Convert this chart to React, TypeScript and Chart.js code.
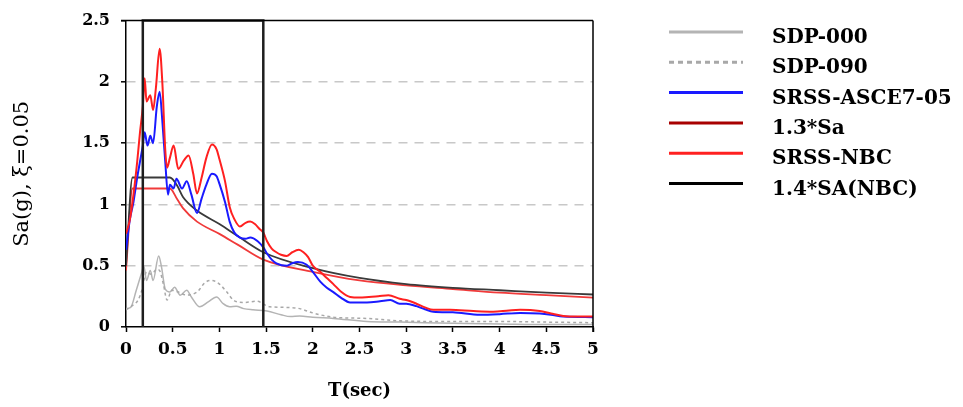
import { useEffect, useRef } from "react";
import { Chart, registerables } from "chart.js";

Chart.register(...registerables);

// SDP-000 (gray solid)
const sdp000T = [0, 0.05, 0.11, 0.17, 0.19, 0.22, 0.26, 0.29, 0.35, 0.38, 0.42, 0.47, 0.52, 0.58, 0.65, 0.7, 0.79, 0.88, 0.97, 1.04, 1.11, 1.18, 1.26, 1.36, 1.51, 1.66, 1.76, 1.86, 2.0, 2.22, 2.58, 2.93, 3.5, 4.0, 4.5, 5.0];
const sdp000Sa = [0.15, 0.16, 0.3, 0.45, 0.5, 0.38, 0.46, 0.38, 0.58, 0.49, 0.31, 0.285, 0.325, 0.26, 0.3, 0.245, 0.165, 0.205, 0.245, 0.19, 0.165, 0.17, 0.15, 0.14, 0.13, 0.1, 0.085, 0.09, 0.08, 0.07, 0.045, 0.04, 0.03, 0.025, 0.02, 0.02];

// SDP-090 (gray dashed)
const sdp090T = [0, 0.06, 0.13, 0.17, 0.22, 0.27, 0.33, 0.36, 0.4, 0.44, 0.49, 0.56, 0.65, 0.76, 0.85, 0.92, 1.0, 1.08, 1.15, 1.26, 1.4, 1.54, 1.72, 1.86, 2.0, 2.22, 2.58, 2.93, 3.5, 4.0, 4.5, 5.0];
const sdp090Sa = [0.14, 0.17, 0.22, 0.3, 0.45, 0.43, 0.47, 0.46, 0.35, 0.22, 0.3, 0.285, 0.26, 0.285, 0.365, 0.38, 0.35, 0.285, 0.22, 0.2, 0.21, 0.165, 0.16, 0.15, 0.115, 0.08, 0.07, 0.05, 0.045, 0.045, 0.04, 0.035];

// SRSS-ASCE7-05 (blue)
const asceT = [0, 0.04, 0.08, 0.12, 0.15, 0.18, 0.2, 0.23, 0.26, 0.29, 0.33, 0.36, 0.39, 0.42, 0.45, 0.47, 0.51, 0.54, 0.6, 0.65, 0.7, 0.76, 0.81, 0.86, 0.92, 0.97, 1.0, 1.06, 1.11, 1.16, 1.22, 1.28, 1.33, 1.41, 1.47, 1.51, 1.56, 1.61, 1.72, 1.78, 1.84, 1.93, 2.0, 2.08, 2.15, 2.22, 2.3, 2.4, 2.58, 2.72, 2.83, 2.93, 3.0, 3.11, 3.2, 3.29, 3.5, 3.79, 4.0, 4.22, 4.43, 4.55, 4.68, 5.0];
const asceSa = [0.63, 0.87, 1.02, 1.22, 1.35, 1.48, 1.59, 1.48, 1.56, 1.5, 1.8, 1.92, 1.67, 1.35, 1.08, 1.16, 1.13, 1.21, 1.13, 1.19, 1.08, 0.93, 1.05, 1.16, 1.25, 1.23, 1.17, 1.02, 0.86, 0.77, 0.73, 0.72, 0.73, 0.7, 0.65, 0.6, 0.55, 0.52, 0.5, 0.52, 0.53, 0.51, 0.45, 0.37, 0.32, 0.285, 0.24, 0.2, 0.2, 0.21, 0.22, 0.19, 0.19, 0.17, 0.145, 0.125, 0.12, 0.1, 0.105, 0.115, 0.11, 0.1, 0.085, 0.08];

// 1.3*Sa (design, red smooth)
const design13T = [0, 0.07, 0.47, 0.55, 0.61, 0.76, 1.0, 1.2, 1.47, 2.0, 2.5, 3.0, 3.5, 4.0, 4.5, 5.0];
const design13Sa = [0.46, 1.13, 1.13, 1.04, 0.97, 0.86, 0.76, 0.67, 0.55, 0.45, 0.38, 0.34, 0.31, 0.28, 0.26, 0.24];

// SRSS-NBC (red jagged)
const nbcT = [0, 0.04, 0.08, 0.12, 0.15, 0.18, 0.2, 0.22, 0.26, 0.29, 0.32, 0.36, 0.39, 0.42, 0.44, 0.47, 0.51, 0.56, 0.62, 0.67, 0.72, 0.76, 0.81, 0.86, 0.92, 0.97, 1.0, 1.06, 1.11, 1.16, 1.22, 1.28, 1.33, 1.38, 1.43, 1.47, 1.51, 1.56, 1.61, 1.66, 1.72, 1.78, 1.85, 1.9, 1.95, 2.0, 2.08, 2.15, 2.22, 2.3, 2.4, 2.5, 2.6, 2.7, 2.81, 2.93, 3.0, 3.11, 3.2, 3.29, 3.47, 3.72, 3.93, 4.1, 4.22, 4.43, 4.55, 4.68, 4.85, 5.0];
const nbcSa = [0.76, 0.87, 1.08, 1.35, 1.59, 1.8, 2.03, 1.84, 1.89, 1.77, 1.95, 2.27, 1.98, 1.45, 1.3, 1.38, 1.48, 1.29, 1.36, 1.4, 1.25, 1.09, 1.22, 1.38, 1.49, 1.45, 1.37, 1.19, 0.98, 0.88, 0.82, 0.85, 0.86, 0.84, 0.8, 0.77, 0.7, 0.64, 0.61, 0.59, 0.58, 0.61, 0.63, 0.61, 0.57, 0.5, 0.45, 0.4, 0.35, 0.29, 0.245, 0.24, 0.245, 0.25, 0.26, 0.23, 0.22, 0.19, 0.16, 0.14, 0.14, 0.13, 0.125, 0.135, 0.14, 0.13, 0.11, 0.09, 0.085, 0.085];

// 1.4*SA(NBC) (design, black smooth)
const design14T = [0, 0.07, 0.47, 0.55, 0.61, 0.76, 1.0, 1.2, 1.47, 2.0, 2.5, 3.0, 3.5, 4.0, 4.5, 5.0];
const design14Sa = [0.5, 1.22, 1.22, 1.15, 1.06, 0.95, 0.84, 0.74, 0.61, 0.48, 0.4, 0.35, 0.32, 0.3, 0.28, 0.265];

// Scaling period range (0.2T - 1.5T box)
const rangeT = [0.18, 1.47];
const rangeSa = [0, 2.5];

const xy = (t: number[], v: number[]) => t.map((x, i) => ({ x, y: v[i] }));

export default function App() {
  const ref = useRef<HTMLCanvasElement>(null);

  useEffect(() => {
    const framePlugin = {
      id: "frame",
      afterDatasetsDraw(chart: any) {
        const { ctx, chartArea } = chart;
        ctx.save();
        ctx.strokeStyle = "#000";
        ctx.lineWidth = 1.5;
        ctx.beginPath();
        ctx.moveTo(chartArea.left - 5, chartArea.top);
        ctx.lineTo(chartArea.right, chartArea.top);
        ctx.moveTo(chartArea.right, chartArea.top);
        ctx.lineTo(chartArea.right, chartArea.bottom + 5);
        ctx.stroke();
        ctx.restore();
      },
    };

    const legendPlugin = {
      id: "sideLegend",
      afterDraw(chart: any) {
        const { ctx, chartArea } = chart;
        const items = chart.data.datasets.filter((d: any) => d.label);
        const x0 = chartArea.right + 76;
        ctx.save();
        items.forEach((d: any, i: number) => {
          const y = 32 + i * 30.3;
          ctx.strokeStyle = d.legendColor || d.borderColor;
          ctx.lineWidth = 3;
          ctx.setLineDash(d.borderDash ? [5, 4] : []);
          ctx.beginPath();
          ctx.moveTo(x0, y);
          ctx.lineTo(x0 + 74, y);
          ctx.stroke();
          ctx.setLineDash([]);
          ctx.fillStyle = "#000";
          ctx.font = "bold 20px 'DejaVu Serif'";
          ctx.textAlign = "left";
          ctx.textBaseline = "alphabetic";
          ctx.fillText(d.label, x0 + 103, y + 11);
        });
        ctx.restore();
      },
    };

    const common = { pointRadius: 0, fill: false, cubicInterpolationMode: "monotone" as const };
    const fmt = (v: any) => `${Number(v)}`;

    const chart = new Chart(ref.current!, {
      type: "line",
      data: {
        datasets: [
          { ...common, label: "SDP-000", data: xy(sdp000T, sdp000Sa), borderColor: "#b4b4b4", borderWidth: 1.5, order: 6 },
          { ...common, label: "SDP-090", data: xy(sdp090T, sdp090Sa), borderColor: "#a8a8a8", borderWidth: 1.5, borderDash: [3, 3], order: 5 },
          { ...common, label: "SRSS-ASCE7-05", data: xy(asceT, asceSa), borderColor: "#1a1aff", borderWidth: 2, order: 2 },
          { ...common, label: "1.3*Sa", data: xy(design13T, design13Sa), borderColor: "#f03a3a", legendColor: "#a80000", borderWidth: 1.8, order: 4 },
          { ...common, label: "SRSS-NBC", data: xy(nbcT, nbcSa), borderColor: "#ff2020", borderWidth: 2, order: 1 },
          { ...common, label: "1.4*SA(NBC)", data: xy(design14T, design14Sa), borderColor: "#3a3a3a", legendColor: "#000", borderWidth: 1.8, order: 3 },
          {
            label: "",
            data: [
              { x: rangeT[0], y: rangeSa[0] },
              { x: rangeT[0], y: rangeSa[1] },
              { x: rangeT[1], y: rangeSa[1] },
              { x: rangeT[1], y: rangeSa[0] },
            ],
            borderColor: "#1e1e1e",
            borderWidth: 2.5,
            pointRadius: 0,
            tension: 0,
            fill: false,
            clip: false,
            order: 0,
          } as any,
        ],
      },
      options: {
        animation: false,
        responsive: false,
        events: [],
        layout: { padding: { left: 0, top: 17, right: 370, bottom: 0 } },
        plugins: { legend: { display: false }, tooltip: { enabled: false } },
        scales: {
          x: {
            type: "linear",
            min: 0,
            max: 5,
            ticks: {
              stepSize: 0.5,
              color: "#000",
              padding: 7,
              maxRotation: 0,
              callback: fmt,
              font: { family: "'DejaVu Serif'", size: 17, weight: "bold" },
            },
            grid: { drawOnChartArea: false, drawTicks: true, tickLength: 5, tickColor: "#000", tickWidth: 1.5 },
            border: { color: "#000", width: 1.5 },
            title: {
              display: true,
              text: "T(sec)",
              color: "#000",
              font: { family: "'DejaVu Serif'", size: 18, weight: "bold" },
              padding: { top: 0, bottom: 5 },
            },
            afterFit: (s: any) => {
              s.height = 80;
            },
          },
          y: {
            type: "linear",
            min: 0,
            max: 2.5,
            ticks: {
              stepSize: 0.5,
              color: "#000",
              padding: 11,
              callback: fmt,
              font: { family: "'DejaVu Serif'", size: 16, weight: "bold" },
            },
            grid: {
              color: (c: any) => (c.tick && c.tick.value > 0 && c.tick.value < 2.5 ? "#c8c8c8" : "rgba(0,0,0,0)"),
              lineWidth: 1.6,
              drawTicks: true,
              tickLength: 5,
              tickColor: "#000",
              tickWidth: 1.5,
            },
            border: { color: "#000", width: 1.5, dash: [9, 7] },
            title: {
              display: true,
              text: "Sa(g), ξ=0.05",
              color: "#000",
              font: { family: "'DejaVu Serif'", size: 21, weight: "normal" },
              padding: { top: 10, bottom: 0 },
            },
            afterFit: (s: any) => {
              s.width = 126;
            },
          },
        },
      },
      plugins: [framePlugin, legendPlugin],
    });
    return () => chart.destroy();
  }, []);

  return (
    <div style={{ position: "absolute", left: 0, top: 0, width: 963, height: 407, background: "#fff" }}>
      <canvas ref={ref} width={963} height={407} style={{ display: "block" }} />
    </div>
  );
}
